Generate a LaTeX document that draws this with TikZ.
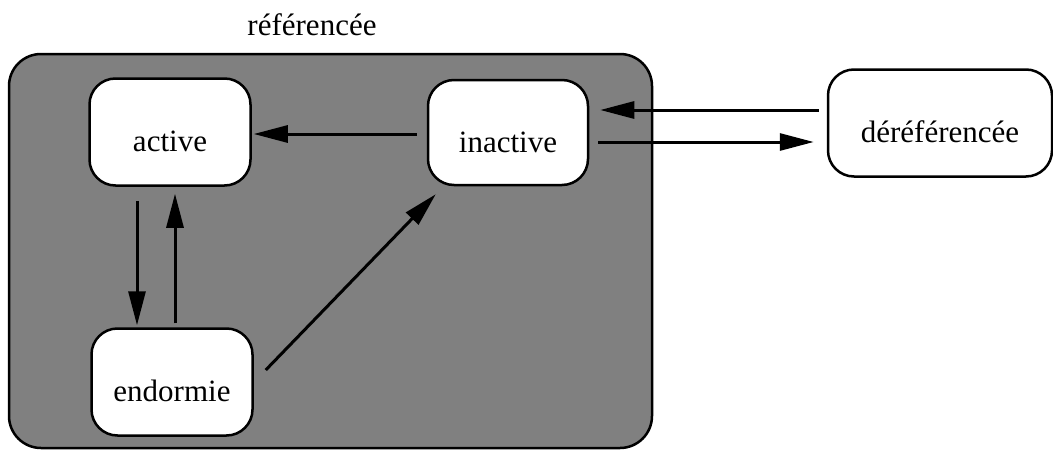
\documentclass[tikz,border=0pt]{standalone}
\usepackage{fontspec}
\setmainfont{Liberation Serif}
\usetikzlibrary{arrows.meta, calc}

\begin{document}
\begin{tikzpicture}[x=1pt,y=-1pt,line cap=butt,
    etat/.style={draw,line width=2.5pt,fill=white,rounded corners=26pt,
        minimum width=161pt,minimum height=107pt,inner sep=0pt,
        text height=39pt,text depth=0pt,font=\fontsize{31}{36}\selectfont},
    fleche/.style={line width=3pt,-{Triangle[length=34pt,width=17pt]}}]
    \useasboundingbox (0,0) rectangle (1053,450);

% grey group of the referenced states
\node[draw,line width=2.5pt,fill=gray,rounded corners=32pt,
      minimum width=643pt,minimum height=394pt] (groupe) at (330.5,251) {};
\node[anchor=base,font=\fontsize{31}{36}\selectfont] (titre) at (312,35) {référencée};

% states
\node[etat] (active)   at (170,132)   {active};
\node[etat,minimum width=160pt,minimum height=105pt] (inactive) at (508,132.5) {inactive};
\node[etat] (endormie) at (172,382)   {endormie};
\node[etat,minimum width=224pt] (deref) at (940,123) {déréférencée};

% transitions
\draw[fleche] ($(inactive.west)+(-10,1.5)$) -- ($(active.east)+(2,2)$);
\draw[fleche] ($(active.south)+(-33,14)$) -- ($(endormie.north)+(-35,-2)$);
\draw[fleche] ($(endormie.north)+(3,-4)$) -- ($(active.south)+(5,7)$);
\draw[fleche] ($(endormie.east)+(12,-12)$) -- ($(inactive.south west)+(9,8)$);

% to and from the dereferenced state
\draw[fleche] ($(deref.west)+(-8,-13)$) -- ($(inactive.east)+(11,-22.5)$);
\draw[fleche] ($(inactive.east)+(9,9.5)$) -- ($(deref.west)+(-13,19)$);

\end{tikzpicture}
\end{document}
